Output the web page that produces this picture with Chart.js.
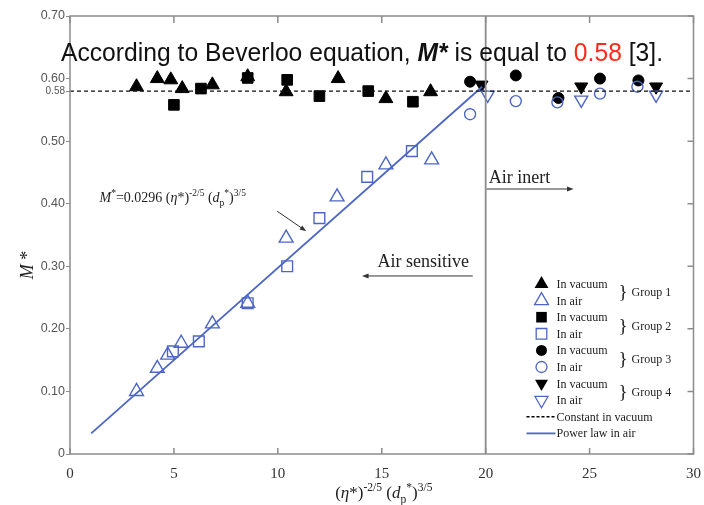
<!DOCTYPE html>
<html>
<head>
<meta charset="utf-8">
<script src="https://cdn.jsdelivr.net/npm/chart.js@4.4.1/dist/chart.umd.min.js"></script>
<style>
  html, body { margin: 0; padding: 0; background: #fff; }
</style>
</head>
<body>
<canvas id="chart" width="704" height="505"></canvas>
<script>
// values
const xTicks = [0, 5, 10, 15, 20, 25, 30];
const yTicks = [0, 0.1, 0.2, 0.3, 0.4, 0.5, 0.58, 0.6, 0.7];
const groupNames = ['Group 1', 'Group 2', 'Group 3', 'Group 4'];
const beverloo = 0.58;
const boundaryX = 20;

// [x, M*] pairs
const g1Vacuum = [[3.2,0.587],[4.2,0.600],[4.85,0.598],[5.4,0.584],[6.85,0.590],[8.55,0.603],[10.4,0.579],[12.9,0.600],[15.2,0.568],[17.35,0.579]];
const g2Vacuum = [[5.0,0.558],[6.3,0.584],[8.55,0.601],[10.45,0.598],[12.0,0.572],[14.35,0.580],[16.5,0.563]];
const g3Vacuum = [[19.25,0.595],[21.45,0.605],[23.5,0.569],[25.5,0.600],[27.35,0.597]];
const g4Vacuum = [[19.8,0.590],[24.6,0.587],[28.2,0.587]];
const g1Air = [[3.2,0.100],[4.2,0.137],[4.7,0.158],[5.35,0.177],[6.85,0.208],[8.55,0.241],[10.4,0.345],[12.85,0.411],[15.2,0.462],[17.4,0.470]];
const g2Air = [[4.95,0.164],[6.2,0.180],[8.55,0.241],[10.45,0.300],[12.0,0.377],[14.3,0.443],[16.45,0.484]];
const g3Air = [[19.25,0.543],[21.45,0.564],[23.45,0.562],[25.5,0.576],[27.3,0.587]];
const g4Air = [[20.1,0.574],[24.6,0.566],[28.2,0.574]];
const powerLaw = [[1.02,0.033],[19.83,0.587]];

const AXIS = '#8c8c8c';
const BLUE = '#4d66c6';
const SERIF = '"Liberation Serif", "DejaVu Serif", serif';
const SANS = '"Liberation Sans", Arial, sans-serif';

function pts(arr){ return arr.map(p => ({ x: p[0], y: p[1] })); }

function vac(data, style, r, rot){
  return { data: pts(data), pointStyle: style, pointRadius: r, pointRotation: rot || 0,
    backgroundColor: '#000', borderColor: '#000', borderWidth: 1, showLine: false };
}
function air(data, style, r, rot){
  return { data: pts(data), pointStyle: style, pointRadius: r, pointRotation: rot || 0,
    backgroundColor: 'rgba(0,0,0,0)', borderColor: BLUE, borderWidth: 1.4, showLine: false };
}

// text made of pieces, some italic / raised / lowered
function richText(ctx, x, y, parts, size, align, family){
  const items = parts.map(p => {
    const s = (p.sup || p.sub) ? size * 0.68 : size;
    const font = (p.b ? 'bold ' : '') + (p.i ? 'italic ' : '') + s + 'px ' + (family || SERIF);
    ctx.font = font;
    return { t: p.t, font, w: ctx.measureText(p.t).width, c: p.c,
      dy: p.sup ? -size * 0.42 : p.sub ? size * 0.32 : 0 };
  });
  const w = items.reduce((a, it) => a + it.w, 0);
  let cx = align === 'center' ? x - w / 2 : align === 'right' ? x - w : x;
  ctx.textAlign = 'left';
  ctx.textBaseline = 'alphabetic';
  items.forEach(it => {
    ctx.font = it.font;
    ctx.fillStyle = it.c || '#222';
    ctx.fillText(it.t, cx, y + it.dy);
    cx += it.w;
  });
  return w;
}

function arrow(ctx, x1, y1, x2, y2, color, lw){
  const ang = Math.atan2(y2 - y1, x2 - x1);
  ctx.strokeStyle = color; ctx.fillStyle = color; ctx.lineWidth = lw;
  ctx.beginPath(); ctx.moveTo(x1, y1); ctx.lineTo(x2 - Math.cos(ang) * 4, y2 - Math.sin(ang) * 4); ctx.stroke();
  ctx.beginPath();
  ctx.moveTo(x2, y2);
  ctx.lineTo(x2 - 7 * Math.cos(ang - 0.35), y2 - 7 * Math.sin(ang - 0.35));
  ctx.lineTo(x2 - 7 * Math.cos(ang + 0.35), y2 - 7 * Math.sin(ang + 0.35));
  ctx.closePath(); ctx.fill();
}

function marker(ctx, style, x, y, r, rot, filled){
  ctx.save();
  ctx.translate(x, y);
  ctx.rotate((rot || 0) * Math.PI / 180);
  ctx.beginPath();
  if (style === 'triangle'){
    for (let k = 0; k < 3; k++){
      const a = k * 2 * Math.PI / 3;
      const px = Math.sin(a) * r, py = -Math.cos(a) * r;
      k ? ctx.lineTo(px, py) : ctx.moveTo(px, py);
    }
    ctx.closePath();
  } else if (style === 'rect'){
    const s = r * Math.SQRT1_2;
    ctx.rect(-s, -s, 2 * s, 2 * s);
  } else {
    ctx.arc(0, 0, r, 0, Math.PI * 2);
  }
  if (filled){ ctx.fillStyle = '#000'; ctx.fill(); }
  else { ctx.strokeStyle = BLUE; ctx.lineWidth = 1.3; ctx.stroke(); }
  ctx.restore();
}

const extras = {
  id: 'extras',
  afterDraw(chart){
    const { ctx, chartArea: a, scales: { x, y } } = chart;
    const X = v => x.getPixelForValue(v), Y = v => y.getPixelForValue(v);
    ctx.save();

    // frame + inner ticks
    ctx.strokeStyle = AXIS; ctx.lineWidth = 1.5;
    ctx.strokeRect(a.left, a.top, a.right - a.left, a.bottom - a.top);
    ctx.beginPath();
    xTicks.forEach(v => {
      ctx.moveTo(X(v), a.bottom); ctx.lineTo(X(v), a.bottom - 6);
      ctx.moveTo(X(v), a.top); ctx.lineTo(X(v), a.top + 7);
    });
    yTicks.filter(v => v !== beverloo).forEach(v => {
      ctx.moveTo(a.right, Y(v)); ctx.lineTo(a.right - 6, Y(v));
    });
    ctx.stroke();

    // headline
    const head = [
      { t: 'According to Beverloo equation, ' },
      { t: 'M*', i: true, b: true },
      { t: ' is equal to ' },
      { t: String(beverloo), c: '#ff2a1a' },
      { t: ' [3].' }
    ];
    ctx.save();
    const probe = document.createElement('canvas').getContext('2d');
    const wNat = richText(probe, 0, 0, head, 25, 'left', SANS);
    ctx.translate(61, 61);
    ctx.scale(602 / wNat, 1);
    head.forEach(p => { if (!p.c) p.c = '#111'; });
    richText(ctx, 0, 0, head, 25, 'left', SANS);
    ctx.restore();

    // formula + arrow
    richText(ctx, X(1.42), Y(0.403), [
      { t: 'M', i: true }, { t: '*', sup: true }, { t: '=0.0296 (' }, { t: 'η', i: true }, { t: '*)' },
      { t: '-2/5', sup: true }, { t: ' (' }, { t: 'd', i: true }, { t: 'p', sub: true }, { t: '*', sup: true },
      { t: ')' }, { t: '3/5', sup: true }
    ], 14, 'left');
    arrow(ctx, X(9.97), Y(0.388), X(11.37), Y(0.356), '#333', 1);

    // regions
    richText(ctx, X(20.15), Y(0.433), [{ t: 'Air inert' }], 18, 'left');
    arrow(ctx, X(20.05), Y(0.4235), X(24.23), Y(0.4235), '#333', 1);
    richText(ctx, X(19.2), Y(0.299), [{ t: 'Air sensitive' }], 18, 'right');
    arrow(ctx, X(19.38), Y(0.2845), X(14.05), Y(0.2845), '#333', 1);

    // axis titles
    richText(ctx, X(15.1), a.bottom + 44, [
      { t: '(' }, { t: 'η', i: true }, { t: '*)' }, { t: '-2/5', sup: true }, { t: ' (' }, { t: 'd', i: true },
      { t: 'p', sub: true }, { t: '*', sup: true }, { t: ')' }, { t: '3/5', sup: true }
    ], 17, 'center');
    ctx.save();
    ctx.translate(33, (a.top + a.bottom) / 2 + 30);
    ctx.rotate(-Math.PI / 2);
    richText(ctx, 0, 0, [{ t: 'M', i: true }, { t: ' *' }], 18, 'center');
    ctx.restore();

    // legend
    const lx = a.right - 152, ly = a.top + 268, dy = 16.6;
    const styles = [['triangle', 8, 0], ['rect', 7.5, 0], ['circle', 5.5, 0], ['triangle', 7.5, 180]];
    groupNames.forEach((name, g) => {
      const y1 = ly + dy * 2 * g, y2 = y1 + dy;
      const st = styles[g];
      marker(ctx, st[0], lx, y1, st[1], st[2], true);
      marker(ctx, st[0], lx, y2, st[1], st[2], false);
      richText(ctx, lx + 15, y1 + 4, [{ t: 'In vacuum' }], 12, 'left');
      richText(ctx, lx + 15, y2 + 4, [{ t: 'In air' }], 12, 'left');
      richText(ctx, lx + 77, (y1 + y2) / 2 + 6, [{ t: '}' }], 19, 'left');
      richText(ctx, lx + 90, (y1 + y2) / 2 + 4, [{ t: name }], 12, 'left');
    });
    const yc = ly + dy * 8, yp = ly + dy * 9;
    ctx.lineWidth = 1.4; ctx.strokeStyle = '#000'; ctx.setLineDash([3, 2]);
    ctx.beginPath(); ctx.moveTo(lx - 15, yc); ctx.lineTo(lx + 14, yc); ctx.stroke();
    ctx.setLineDash([]); ctx.strokeStyle = BLUE; ctx.lineWidth = 1.8;
    ctx.beginPath(); ctx.moveTo(lx - 15, yp); ctx.lineTo(lx + 14, yp); ctx.stroke();
    richText(ctx, lx + 15, yc + 4, [{ t: 'Constant in vacuum' }], 12, 'left');
    richText(ctx, lx + 15, yp + 4, [{ t: 'Power law in air' }], 12, 'left');

    ctx.restore();
  }
};

new Chart(document.getElementById('chart'), {
  type: 'scatter',
  data: {
    datasets: [
      { data: [{ x: boundaryX, y: 0 }, { x: boundaryX, y: 0.7 }], showLine: true, pointRadius: 0,
        borderColor: AXIS, borderWidth: 1.8 },
      { data: [{ x: 0, y: beverloo }, { x: 30, y: beverloo }], showLine: true, pointRadius: 0,
        borderColor: '#111', borderWidth: 1.3, borderDash: [4, 3] },
      { data: pts(powerLaw), showLine: true, pointRadius: 0, borderColor: BLUE, borderWidth: 1.8 },
      air(g1Air, 'triangle', 8),
      air(g2Air, 'rect', 7.6),
      air(g3Air, 'circle', 5.5),
      air(g4Air, 'triangle', 7.5, 180),
      vac(g1Vacuum, 'triangle', 8),
      vac(g2Vacuum, 'rect', 7.5),
      vac(g3Vacuum, 'circle', 5.5),
      vac(g4Vacuum, 'triangle', 7.5, 180)
    ]
  },
  options: {
    responsive: false,
    animation: false,
    devicePixelRatio: 1,
    layout: { padding: { top: 16, right: 0, left: 0, bottom: 0 } },
    plugins: { legend: { display: false }, tooltip: { enabled: false } },
    scales: {
      x: {
        type: 'linear', min: 0, max: 30,
        afterBuildTicks: s => { s.ticks = xTicks.map(v => ({ value: v })); },
        afterFit: s => { s.height = 51; },
        grid: { display: false },
        border: { display: false },
        ticks: { color: '#333', padding: 3, font: { family: SERIF, size: 15 } }
      },
      y: {
        min: 0, max: 0.7,
        afterBuildTicks: s => { s.ticks = yTicks.map(v => ({ value: v })); },
        afterFit: s => { s.width = 70; },
        grid: { display: true, drawOnChartArea: false, drawTicks: true, tickLength: 4, color: AXIS },
        border: { display: false },
        ticks: {
          color: '#555', padding: 1,
          font: c => ({ family: SANS, size: c.tick && c.tick.value === beverloo ? 10 : 12.5 }),
          callback: v => v === 0 ? '0' : Number(v).toFixed(2)
        }
      }
    }
  },
  plugins: [extras]
});
</script>
</body>
</html>
